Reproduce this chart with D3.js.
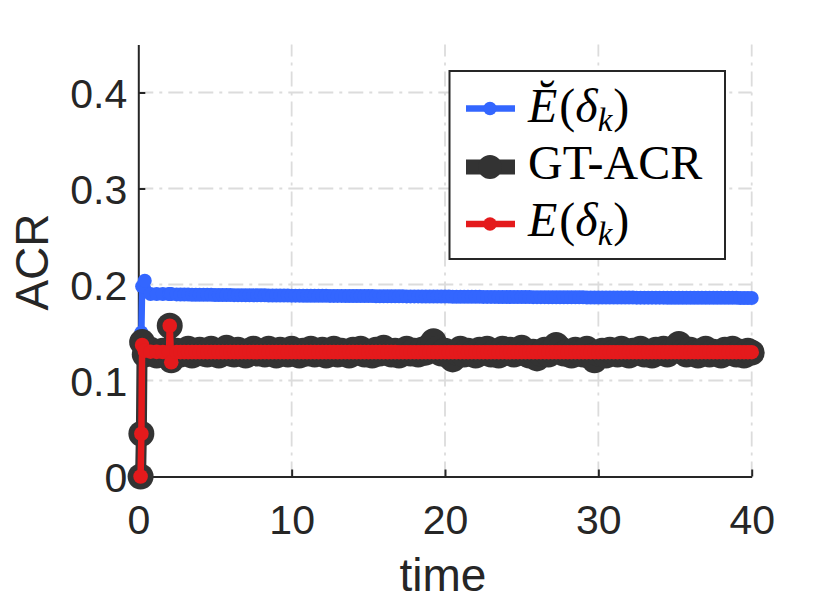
<!DOCTYPE html>
<html>
<head>
<meta charset="utf-8">
<script src="https://cdn.jsdelivr.net/npm/d3@7/dist/d3.min.js"></script>
<style>
  body { margin: 0; background: #fff; }
  svg { display: block; }
</style>
</head>
<body>
<svg id="chart" width="830" height="604"></svg>
<script>
// time instants of the simulation
const time = [0.15, 0.2, 0.25, 0.42, 0.8, 1.2, 1.6, 2.0, 2.05, 2.15,
    2.5, 2.75,
    3, 3.25, 3.5, 3.75, 4, 4.25, 4.5, 4.75, 5, 5.25, 5.5, 5.75,
    6, 6.25, 6.5, 6.75, 7, 7.25, 7.5, 7.75, 8, 8.25, 8.5, 8.75,
    9, 9.25, 9.5, 9.75, 10, 10.25, 10.5, 10.75, 11, 11.25, 11.5, 11.75,
    12, 12.25, 12.5, 12.75, 13, 13.25, 13.5, 13.75, 14, 14.25, 14.5, 14.75,
    15, 15.25, 15.5, 15.75, 16, 16.25, 16.5, 16.75, 17, 17.25, 17.5, 17.75,
    18, 18.25, 18.5, 18.75, 19, 19.25, 19.5, 19.75, 20, 20.25, 20.5, 20.75,
    21, 21.25, 21.5, 21.75, 22, 22.25, 22.5, 22.75, 23, 23.25, 23.5, 23.75,
    24, 24.25, 24.5, 24.75, 25, 25.25, 25.5, 25.75, 26, 26.25, 26.5, 26.75,
    27, 27.25, 27.5, 27.75, 28, 28.25, 28.5, 28.75, 29, 29.25, 29.5, 29.75,
    30, 30.25, 30.5, 30.75, 31, 31.25, 31.5, 31.75, 32, 32.25, 32.5, 32.75,
    33, 33.25, 33.5, 33.75, 34, 34.25, 34.5, 34.75, 35, 35.25, 35.5, 35.75,
    36, 36.25, 36.5, 36.75, 37, 37.25, 37.5, 37.75, 38, 38.25, 38.5, 38.75,
    39, 39.25, 39.5, 39.75, 40]

// E breve (delta_k)
const acrBreve = [0, 0.15, 0.198, 0.204, 0.190, 0.190, 0.190, 0.190, 0.190, 0.190,
    0.1897, 0.1896,
    0.1895, 0.1895, 0.1894, 0.1894, 0.1893, 0.1893, 0.1892, 0.1892, 0.1891, 0.1891, 0.1890, 0.1890,
    0.1890, 0.1889, 0.1889, 0.1889, 0.1888, 0.1888, 0.1888, 0.1887, 0.1887, 0.1887, 0.1886, 0.1886,
    0.1886, 0.1885, 0.1885, 0.1885, 0.1884, 0.1884, 0.1884, 0.1883, 0.1883, 0.1883, 0.1883, 0.1882,
    0.1882, 0.1882, 0.1881, 0.1881, 0.1881, 0.1881, 0.1880, 0.1880, 0.1880, 0.1880, 0.1879, 0.1879,
    0.1879, 0.1879, 0.1878, 0.1878, 0.1878, 0.1878, 0.1877, 0.1877, 0.1877, 0.1877, 0.1876, 0.1876,
    0.1876, 0.1876, 0.1875, 0.1875, 0.1875, 0.1875, 0.1874, 0.1874, 0.1874, 0.1874, 0.1873, 0.1873,
    0.1873, 0.1873, 0.1872, 0.1872, 0.1872, 0.1872, 0.1871, 0.1871, 0.1871, 0.1871, 0.1870, 0.1870,
    0.1870, 0.1870, 0.1870, 0.1869, 0.1869, 0.1869, 0.1869, 0.1868, 0.1868, 0.1868, 0.1868, 0.1867,
    0.1867, 0.1867, 0.1867, 0.1867, 0.1866, 0.1866, 0.1866, 0.1866, 0.1866, 0.1865, 0.1865, 0.1865,
    0.1865, 0.1865, 0.1865, 0.1864, 0.1864, 0.1864, 0.1864, 0.1864, 0.1864, 0.1864, 0.1863, 0.1863,
    0.1863, 0.1863, 0.1863, 0.1863, 0.1863, 0.1863, 0.1862, 0.1862, 0.1862, 0.1862, 0.1862, 0.1862,
    0.1862, 0.1862, 0.1862, 0.1861, 0.1861, 0.1861, 0.1861, 0.1861, 0.1861, 0.1861, 0.1861, 0.1861,
    0.1861, 0.1860, 0.1860, 0.1860, 0.1860]

// ground truth ACR
const acrGT = [0, 0.0445, 0.140, 0.127, 0.132, 0.126, 0.131, 0.129, 0.157, 0.121,
    0.131, 0.127,
    0.129, 0.133, 0.126, 0.130, 0.132, 0.128, 0.127, 0.133, 0.130, 0.126, 0.131, 0.134,
    0.128, 0.127, 0.132, 0.129, 0.126, 0.131, 0.133, 0.128, 0.130, 0.127, 0.133, 0.129,
    0.126, 0.132, 0.130, 0.127, 0.133, 0.129, 0.126, 0.131, 0.128, 0.133, 0.127, 0.130,
    0.132, 0.126, 0.129, 0.133, 0.127, 0.131, 0.128, 0.126, 0.132, 0.129, 0.133, 0.127,
    0.130, 0.126, 0.132, 0.128, 0.134, 0.129, 0.127, 0.131, 0.126, 0.130, 0.133, 0.128,
    0.131, 0.127, 0.132, 0.129, 0.136, 0.141, 0.133, 0.128, 0.131, 0.126, 0.122, 0.129,
    0.133, 0.127, 0.131, 0.128, 0.126, 0.132, 0.129, 0.133, 0.127, 0.130, 0.126, 0.133,
    0.129, 0.132, 0.127, 0.131, 0.134, 0.128, 0.126, 0.130, 0.123, 0.128, 0.132, 0.127,
    0.131, 0.137, 0.133, 0.128, 0.130, 0.126, 0.132, 0.129, 0.127, 0.133, 0.125, 0.121,
    0.128, 0.131, 0.126, 0.132, 0.129, 0.127, 0.133, 0.128, 0.126, 0.131, 0.129, 0.133,
    0.127, 0.130, 0.126, 0.132, 0.129, 0.133, 0.127, 0.131, 0.134, 0.138, 0.130, 0.127,
    0.132, 0.128, 0.126, 0.131, 0.133, 0.127, 0.130, 0.128, 0.126, 0.132, 0.129, 0.133,
    0.127, 0.130, 0.126, 0.131, 0.129]

// E(delta_k)
const acrE = [0, 0.0445, 0.137, 0.131, 0.130, 0.1298, 0.1297, 0.1297, 0.157, 0.119,
    0.1296, 0.1296,
    0.1296, 0.1296, 0.1296, 0.1296, 0.1296, 0.1296, 0.1296, 0.1296, 0.1296, 0.1296, 0.1296, 0.1296,
    0.1296, 0.1296, 0.1296, 0.1296, 0.1296, 0.1296, 0.1296, 0.1296, 0.1296, 0.1296, 0.1296, 0.1296,
    0.1296, 0.1296, 0.1296, 0.1296, 0.1296, 0.1296, 0.1296, 0.1296, 0.1296, 0.1296, 0.1296, 0.1296,
    0.1296, 0.1296, 0.1296, 0.1296, 0.1296, 0.1296, 0.1296, 0.1296, 0.1296, 0.1296, 0.1296, 0.1296,
    0.1296, 0.1296, 0.1296, 0.1296, 0.1296, 0.1296, 0.1296, 0.1296, 0.1295, 0.1295, 0.1295, 0.1295,
    0.1295, 0.1295, 0.1295, 0.1295, 0.1295, 0.1295, 0.1295, 0.1295, 0.1295, 0.1295, 0.1295, 0.1295,
    0.1295, 0.1295, 0.1295, 0.1295, 0.1295, 0.1295, 0.1295, 0.1295, 0.1295, 0.1295, 0.1295, 0.1295,
    0.1295, 0.1295, 0.1295, 0.1295, 0.1295, 0.1295, 0.1295, 0.1295, 0.1295, 0.1295, 0.1295, 0.1295,
    0.1295, 0.1295, 0.1295, 0.1295, 0.1295, 0.1295, 0.1295, 0.1295, 0.1295, 0.1295, 0.1295, 0.1295,
    0.1295, 0.1295, 0.1295, 0.1295, 0.1295, 0.1295, 0.1295, 0.1295, 0.1295, 0.1295, 0.1295, 0.1295,
    0.1295, 0.1295, 0.1295, 0.1295, 0.1295, 0.1295, 0.1295, 0.1295, 0.1295, 0.1295, 0.1295, 0.1295,
    0.1295, 0.1295, 0.1295, 0.1295, 0.1295, 0.1295, 0.1295, 0.1295, 0.1295, 0.1295, 0.1295, 0.1295,
    0.1295, 0.1295, 0.1295, 0.1295, 0.1295]

const xTicks = [0, 10, 20, 30, 40]
const yTicks = [0, 0.1, 0.2, 0.3, 0.4]
const yTickLabels = ['0', '0.1', '0.2', '0.3', '0.4']

const svg = d3.select('#chart')

let x = d3.scaleLinear().domain([0, 40]).range([138.3, 751.7])
let y = d3.scaleLinear().domain([0, 0.45]).range([476.5, 44.5])

// grid (dash-dot)
let grid = svg.append('g')
    .attr('stroke', '#dcdcdc')
    .attr('stroke-width', 1.8)
    .attr('stroke-dasharray', '15,6,3,6')
grid.selectAll('.gx').data(xTicks.slice(1)).enter().append('line')
    .attr('x1', d => x(d)).attr('x2', d => x(d))
    .attr('y1', y(0)).attr('y2', y(0.45))
grid.selectAll('.gy').data(yTicks.slice(1)).enter().append('line')
    .attr('x1', x(0)).attr('x2', x(40))
    .attr('y1', d => y(d)).attr('y2', d => y(d))

// axes
let xAxis = d3.axisBottom(x).tickValues(xTicks).tickSizeInner(-7).tickSizeOuter(0).tickPadding(18)
let yAxis = d3.axisLeft(y).tickValues(yTicks).tickSizeInner(-7).tickSizeOuter(0).tickPadding(18)
    .tickFormat((d, i) => yTickLabels[i])

let gx = svg.append('g').attr('transform', 'translate(0,' + y(0) + ')').call(xAxis)
let gy = svg.append('g').attr('transform', 'translate(' + x(0) + ',0)').call(yAxis)
;[gx, gy].forEach(g => {
    g.select('.domain').attr('stroke', '#262626').attr('stroke-width', 2)
    g.selectAll('.tick line').attr('stroke', '#262626').attr('stroke-width', 2)
    g.selectAll('.tick text')
        .attr('fill', '#262626')
        .style('font-family', '"Liberation Sans", Arial, sans-serif')
        .style('font-size', '41px')
})
gx.selectAll('.tick text').attr('dy', null).attr('y', 57)
gy.selectAll('.tick text').attr('dy', '0.36em').attr('x', -11)

// axis labels
svg.append('text')
    .attr('x', 443).attr('y', 591)
    .attr('text-anchor', 'middle')
    .attr('fill', '#262626')
    .style('font-family', '"Liberation Sans", Arial, sans-serif')
    .style('font-size', '46px')
    .text('time')
svg.append('text')
    .attr('transform', 'translate(48,262) rotate(-90)')
    .attr('text-anchor', 'middle')
    .attr('fill', '#262626')
    .style('font-family', '"Liberation Sans", Arial, sans-serif')
    .style('font-size', '46px')
    .text('ACR')

// series: drawn blue, black, red
const series = [
    { values: acrBreve, color: '#3366ff', lw: 6.5, r: 7 },
    { values: acrGT, color: '#333333', lw: 11, r: 13 },
    { values: acrE, color: '#e41a1c', lw: 6.5, r: 7.3 }
]

let line = d3.line()
    .x(d => x(d[0]))
    .y(d => y(d[1]))

series.forEach(s => {
    let pts = time.map((t, i) => [t, s.values[i]])
    svg.append('path')
        .datum(pts)
        .attr('d', line)
        .attr('fill', 'none')
        .attr('stroke', s.color)
        .attr('stroke-width', s.lw)
        .attr('stroke-linejoin', 'round')
        .attr('stroke-linecap', 'round')
    svg.append('g').selectAll('circle')
        .data(pts)
        .enter().append('circle')
        .attr('cx', d => x(d[0]))
        .attr('cy', d => y(d[1]))
        .attr('r', s.r)
        .attr('fill', s.color)
})

// legend
let legend = svg.append('g')
legend.append('rect')
    .attr('x', 449.5).attr('y', 71)
    .attr('width', 275.5).attr('height', 188)
    .attr('fill', '#fff')
    .attr('stroke', '#262626')
    .attr('stroke-width', 2)

const legendRows = [
    { y: 108.5, color: '#3366ff', lw: 6.5, r: 6.7 },
    { y: 167, color: '#333333', lw: 15, r: 12 },
    { y: 224, color: '#e41a1c', lw: 6.5, r: 6.7 }
]
legendRows.forEach(row => {
    legend.append('line')
        .attr('x1', 466).attr('x2', 515)
        .attr('y1', row.y).attr('y2', row.y)
        .attr('stroke', row.color)
        .attr('stroke-width', row.lw)
    legend.append('circle')
        .attr('cx', 490).attr('cy', row.y)
        .attr('r', row.r)
        .attr('fill', row.color)
})

function mathLabel(yy, breve) {
    let t = legend.append('text')
        .attr('x', 528).attr('y', yy)
        .attr('fill', '#000')
        .style('font-family', '"Liberation Serif", "Times New Roman", serif')
        .style('font-size', '48px')
    t.append('tspan').style('font-style', 'italic').text(breve ? '\u0114' : 'E')
    t.append('tspan').attr('dx', 2).text('(')
    t.append('tspan').style('font-style', 'italic').text('\u03b4')
    t.append('tspan').style('font-style', 'italic').style('font-size', '33px')
        .attr('dy', 9).text('k')
    t.append('tspan').attr('dy', -9).attr('dx', 1).text(')')
}
mathLabel(122, true)
legend.append('text')
    .attr('x', 528).attr('y', 179)
    .attr('fill', '#000')
    .style('font-family', '"Liberation Serif", "Times New Roman", serif')
    .style('font-size', '48px')
    .text('GT-ACR')
mathLabel(236, false)
</script>
</body>
</html>
